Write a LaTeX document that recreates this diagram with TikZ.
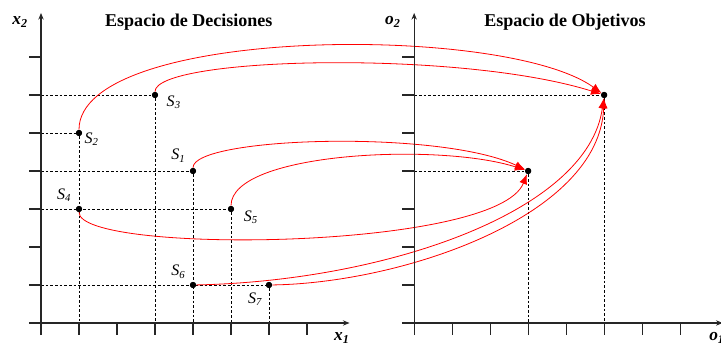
\documentclass[tikz,border=0pt]{standalone}
\usepackage{fontspec}
\setmainfont{Liberation Serif}
\usetikzlibrary{arrows.meta,calc,positioning}

\tikzset{
  dot/.style={circle,fill=black,inner sep=0pt,minimum size=4.6pt},
  guide/.style={line width=0.5pt,dash pattern=on 2pt off 1.5pt},
  axis/.style={line width=0.9pt,black!85,-{Stealth[length=5pt,width=4pt]}},
  tick/.style={line width=0.9pt,black!85},
  map/.style={red,line width=0.6pt,-{Latex[length=7.5pt,width=6pt]}},
  lbl/.style={inner sep=0pt,font=\fontsize{12}{14}\selectfont\itshape},
  axlbl/.style={inner sep=0pt,font=\fontsize{13}{15}\selectfont\bfseries\itshape},
  title/.style={inner sep=0pt,font=\fontsize{13.5}{16}\selectfont\bfseries}
}

\begin{document}
\begin{tikzpicture}
  \useasboundingbox (-1.079,-0.553) rectangle (17.895,8.5);
  \coordinate (lo) at (0,0);
  \coordinate (ro) at (9.82,0);

  % Decision space points
  \node[dot] (s1) at (4,4) {};
  \node[dot] (s2) at (1,5) {};
  \node[dot] (s3) at (3,6) {};
  \node[dot] (s4) at (1,3) {};
  \node[dot] (s5) at (5,3) {};
  \node[dot] (s6) at (4,1) {};
  \node[dot] (s7) at (6,1) {};
  % Objective space points
  \node[dot] (o1) at (12.82,4) {};
  \node[dot] (o2) at (14.82,6) {};

  % Guides
  \foreach \p in {s1,s2,s3,s5,s7}
    \draw[guide] (lo|-\p) -- (\p) -- (\p|-lo);
  \foreach \p in {o1,o2}
    \draw[guide] (ro|-\p) -- (\p) -- (\p|-ro);

  % Mappings
  \draw[map] (s2) .. controls (1,7.8) and (12.2,7.9) .. (o2);
  \draw[map] (s3) .. controls (3,7.0) and (11,7.2) .. (o2);
  \draw[map] (s1) .. controls (4,4.9) and (10.5,5.1) .. (o1);
  \draw[map] (s5) .. controls (5,4.5) and (10.5,4.75) .. (o1);
  \draw[map] (s4) .. controls (1,1.8) and (12,1.9) .. (o1);
  \draw[map] (s6) .. controls (9,1.1) and (14.4,2.9) .. (o2);
  \draw[map] (s7) .. controls (9.5,1.05) and (14.7,2.8) .. (o2);

  % Axes
  \foreach \o in {lo,ro} {
    \draw[axis] ($(\o)+(-0.32,0)$) -- ($(\o)+(8.12,0)$);
    \draw[axis] ($(\o)+(0,-0.32)$) -- ($(\o)+(0,8.16)$);
    \foreach \i in {1,...,7} {
      \draw[tick] ($(\o)+(\i,0)$) -- ++(0,-0.32);
      \draw[tick] ($(\o)+(0,\i)$) -- ++(-0.32,0);
    }
  }
  \foreach \p in {s1,s2,s3,s4,s5,s6,s7,o1,o2}
    \node[dot] at (\p) {};

  % Labels
  \node[lbl,above left=0.16 and 0.13 of s1] (l1) {S\textsubscript{1}};
  \node[lbl,below right=-0.08 and 0.08 of s2] (l2) {S\textsubscript{2}};
  \node[lbl,below right=-0.05 and 0.24 of s3] (l3) {S\textsubscript{3}};
  \node[lbl,above left=0.13 and 0.14 of s4] (l4) {S\textsubscript{4}};
  \node[lbl,below right=-0.02 and 0.27 of s5] (l5) {S\textsubscript{5}};
  \node[lbl,above left=0.11 and 0.13 of s6] (l6) {S\textsubscript{6}};
  \node[lbl,below left=0.14 and 0.11 of s7] (l7) {S\textsubscript{7}};

  \node[axlbl] (x2) at (-0.55,7.92) {x\textsubscript{2}};
  \node[axlbl] (x1) at (7.92,-0.39) {x\textsubscript{1}};
  \node[axlbl] (o2l) at (9.26,7.92) {o\textsubscript{2}};
  \node[axlbl,anchor=west] (o1l) at (17.58,-0.39) {o\textsubscript{1}};

  \node[title] (tl) at (3.89,7.92) {Espacio de Decisiones};
  \node[title] (tr) at (13.79,7.92) {Espacio de Objetivos};
\end{tikzpicture}
\end{document}
